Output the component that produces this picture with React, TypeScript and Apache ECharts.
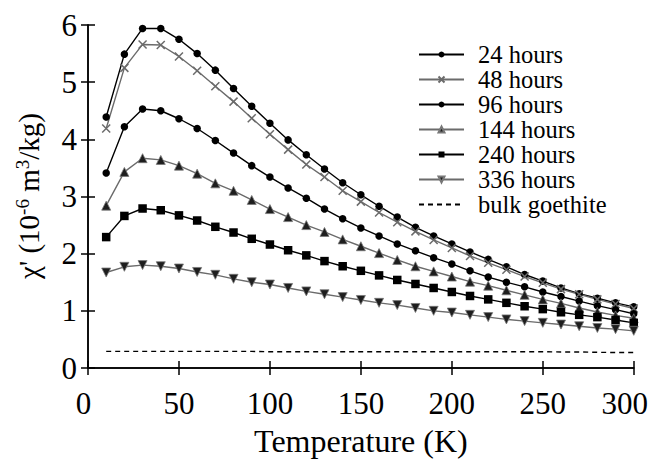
import React, { useEffect, useRef } from "react";
import * as echarts from "echarts";

// Measurement temperatures (K)
const temperatures = [
  10, 20, 30, 40, 50, 60, 70, 80, 90, 100, 110, 120, 130, 140, 150,
  160, 170, 180, 190, 200, 210, 220, 230, 240, 250, 260, 270, 280, 290, 300,
];

// Real part of the AC susceptibility, 10^-6 m^3/kg, by ageing time
const chi24h = [
  4.39, 5.49, 5.94, 5.94, 5.75, 5.5, 5.21, 4.89, 4.58, 4.28, 3.99, 3.73, 3.48, 3.24, 3.03,
  2.83, 2.64, 2.46, 2.31, 2.17, 2.03, 1.9, 1.77, 1.635, 1.52, 1.4, 1.3, 1.22, 1.14, 1.07,
];
const chi48h = [
  4.19, 5.25, 5.66, 5.65, 5.45, 5.2, 4.93, 4.66, 4.37, 4.09, 3.82, 3.56, 3.34, 3.1, 2.91,
  2.72, 2.55, 2.39, 2.24, 2.1, 1.96, 1.84, 1.72, 1.6, 1.49, 1.38, 1.29, 1.2, 1.12, 1.04,
];
const chi96h = [
  3.41, 4.22, 4.53, 4.5, 4.36, 4.19, 3.98, 3.76, 3.54, 3.34, 3.15, 2.97, 2.78, 2.61, 2.45,
  2.31, 2.17, 2.05, 1.93, 1.82, 1.7, 1.59, 1.5, 1.42, 1.33, 1.25, 1.17, 1.09, 1.02, 0.95,
];
const chi144h = [
  2.84, 3.43, 3.67, 3.64, 3.54, 3.4, 3.23, 3.1, 2.94, 2.78, 2.64, 2.5, 2.38, 2.25, 2.13,
  2.01, 1.89, 1.78, 1.69, 1.6, 1.51, 1.44, 1.36, 1.28, 1.2, 1.13, 1.05, 0.98, 0.92, 0.87,
];
const chi240h = [
  2.29, 2.66, 2.79, 2.76, 2.67, 2.58, 2.47, 2.37, 2.26, 2.16, 2.06, 1.97, 1.87, 1.78, 1.7,
  1.62, 1.54, 1.47, 1.4, 1.33, 1.26, 1.2, 1.14, 1.08, 1.03, 0.975, 0.93, 0.89, 0.84, 0.79,
];
const chi336h = [
  1.67, 1.77, 1.8, 1.78, 1.74, 1.68, 1.63, 1.56, 1.5, 1.46, 1.4, 1.34, 1.29, 1.24, 1.19,
  1.14, 1.1, 1.05, 1.0, 0.97, 0.93, 0.89, 0.85, 0.82, 0.79, 0.76, 0.73, 0.7, 0.68, 0.65,
];
const chiBulk = [
  0.29, 0.29, 0.29, 0.29, 0.29, 0.29, 0.29, 0.29, 0.29, 0.285, 0.285, 0.285, 0.285, 0.285, 0.285,
  0.285, 0.285, 0.285, 0.285, 0.285, 0.285, 0.285, 0.285, 0.285, 0.285, 0.28, 0.28, 0.275, 0.27, 0.27,
];

const seriesNames = [
  "24 hours",
  "48 hours",
  "96 hours",
  "144 hours",
  "240 hours",
  "336 hours",
  "bulk goethite",
];

// Axis ranges and tick steps
const xRange = { min: 0, max: 300, interval: 50 };
const yRange = { min: 0, max: 6, interval: 1 };

const FONT = "Liberation Serif";
const BLACK = "#000000";
const GREY = "#6b6b6b";

const CROSS = "path://M0,0L10,10M10,0L0,10";
const DOWN_TRIANGLE = "path://M0,0L12,0L6,10.4Z";

function pairs(values: number[]) {
  return temperatures.map((t, i) => [t, values[i]]);
}

function lineSeries(
  name: string,
  values: number[],
  lineColor: string,
  symbol: string,
  symbolSize: number,
  fill: string,
  border?: { color: string; width: number }
) {
  return {
    type: "line",
    name,
    data: pairs(values),
    symbol,
    symbolSize,
    showAllSymbol: true,
    lineStyle: { color: lineColor, width: 1.4 },
    itemStyle: {
      color: fill,
      borderColor: border ? border.color : fill,
      borderWidth: border ? border.width : 0,
      opacity: 1,
    },
    emphasis: { disabled: true },
    z: 3,
  };
}

export default function App() {
  const ref = useRef<HTMLDivElement>(null);

  useEffect(() => {
    if (!ref.current) return;
    const chart = echarts.init(ref.current, undefined, { renderer: "svg" });

    const tickLabel = {
      color: BLACK,
      fontFamily: FONT,
      fontSize: 31,
    };

    const option = {
      animation: false,
      backgroundColor: "#ffffff",
      textStyle: { fontFamily: FONT },
      grid: { left: 88, top: 25, width: 548, height: 343 },
      legend: {
        orient: "vertical",
        left: 418,
        top: 42,
        padding: 0,
        itemGap: 0,
        itemWidth: 45,
        itemHeight: 7.5,
        selectedMode: false,
        data: seriesNames,
        textStyle: {
          color: BLACK,
          fontFamily: FONT,
          fontSize: 24.5,
          padding: [0, 0, 0, 9],
        },
      },
      xAxis: [
        {
          type: "value",
          position: "bottom",
          ...xRange,
          name: "Temperature (K)",
          nameLocation: "middle",
          nameGap: 57,
          nameTextStyle: { color: BLACK, fontFamily: FONT, fontSize: 32 },
          axisLine: { show: true, lineStyle: { color: BLACK, width: 1.5 } },
          axisTick: { show: true, inside: true, length: 7, lineStyle: { color: BLACK, width: 1.5 } },
          splitLine: { show: false },
          axisLabel: {
            ...tickLabel,
            margin: 20,
            formatter: (v: number) =>
              v === xRange.max ? `{last|${v}}` : v === xRange.min ? `{first|${v}}` : `{n|${v}}`,
            rich: {
              n: { ...tickLabel },
              first: { ...tickLabel, padding: [0, 9, 0, 0] },
              last: { ...tickLabel, padding: [0, 18, 0, 0] },
            },
          },
        },
        {
          type: "value",
          position: "top",
          ...xRange,
          axisLine: { show: true, lineStyle: { color: BLACK, width: 1.5 } },
          axisTick: { show: true, inside: true, length: 7, lineStyle: { color: BLACK, width: 1.5 } },
          axisLabel: { show: false },
          splitLine: { show: false },
        },
      ],
      yAxis: [
        {
          type: "value",
          position: "left",
          ...yRange,
          axisLine: { show: true, lineStyle: { color: BLACK, width: 1.5 } },
          axisTick: { show: true, inside: true, length: 7, lineStyle: { color: BLACK, width: 1.5 } },
          splitLine: { show: false },
          axisLabel: { ...tickLabel, margin: 11 },
        },
        {
          type: "value",
          position: "right",
          ...yRange,
          axisLine: { show: true, lineStyle: { color: BLACK, width: 1.5 } },
          axisTick: { show: true, inside: true, length: 7, lineStyle: { color: BLACK, width: 1.5 } },
          axisLabel: { show: false },
          splitLine: { show: false },
        },
      ],
      graphic: [
        {
          type: "text",
          x: 29,
          y: 196,
          rotation: Math.PI / 2,
          style: {
            text: "χ' (10{sup|-6} m{sup|3}/kg)",
            fill: BLACK,
            fontFamily: FONT,
            fontSize: 29,
            align: "center",
            verticalAlign: "middle",
            rich: {
              sup: { fontFamily: FONT, fontSize: 19, fill: BLACK, padding: [0, 0, 14, 0] },
            },
          },
        },
      ],
      series: [
        lineSeries(seriesNames[0], chi24h, BLACK, "circle", 7.5, BLACK),
        lineSeries(seriesNames[1], chi48h, GREY, CROSS, 8, GREY, { color: GREY, width: 1.5 }),
        lineSeries(seriesNames[2], chi96h, BLACK, "circle", 7.5, BLACK),
        lineSeries(seriesNames[3], chi144h, GREY, "triangle", 9, "#1e1e1e", { color: "#777777", width: 0.8 }),
        lineSeries(seriesNames[4], chi240h, BLACK, "rect", 8.5, BLACK),
        lineSeries(seriesNames[5], chi336h, GREY, DOWN_TRIANGLE, 9, "#1e1e1e", { color: "#777777", width: 0.8 }),
        {
          type: "line",
          name: seriesNames[6],
          data: pairs(chiBulk),
          symbol: "none",
          lineStyle: { color: BLACK, width: 1.4, type: [5, 4] },
          itemStyle: { color: "rgba(0,0,0,0)" },
          emphasis: { disabled: true },
          z: 2,
        },
      ],
    };

    chart.setOption(option as any);
    return () => chart.dispose();
  }, []);

  return (
    <div
      ref={ref}
      style={{ position: "fixed", left: 0, top: 0, width: 651, height: 463, background: "#fff" }}
    />
  );
}
